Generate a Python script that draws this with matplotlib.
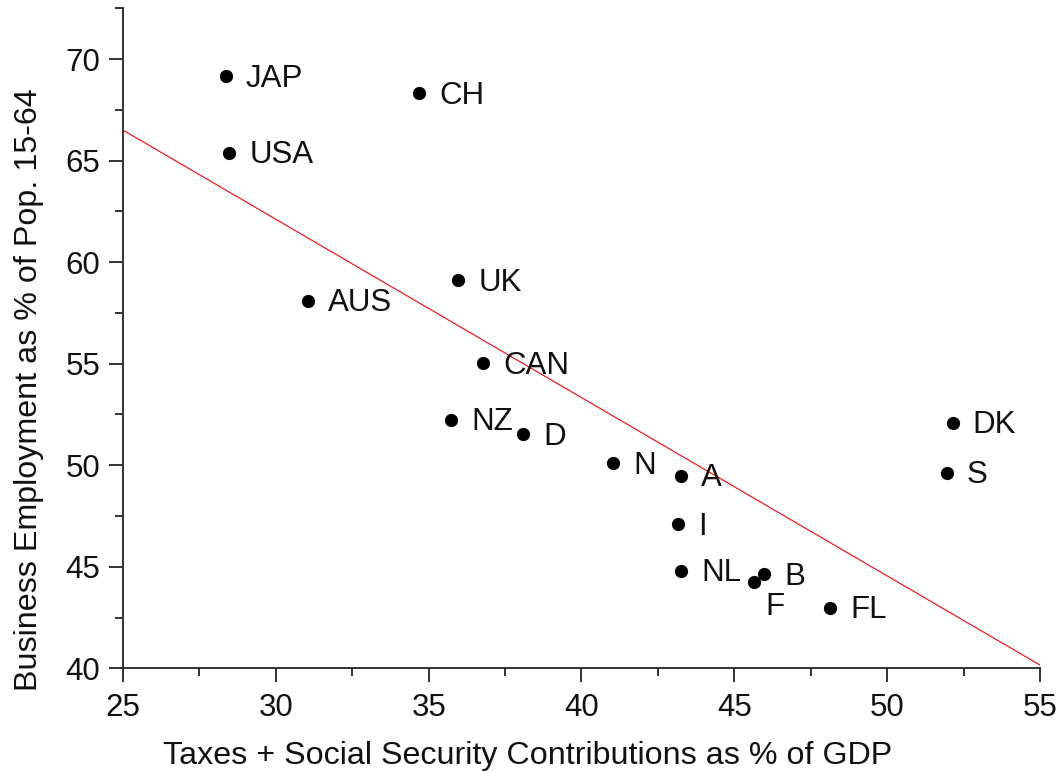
import matplotlib
matplotlib.use("Agg")
import matplotlib.pyplot as plt
from matplotlib.ticker import MultipleLocator

# ---- data ----
countries = ["JAP", "USA", "CH", "AUS", "UK", "CAN", "NZ", "D", "N", "A",
             "I", "NL", "F", "B", "FL", "DK", "S"]
tax_pct = [28.36, 28.47, 34.68, 31.06, 35.97, 36.77, 35.73, 38.08, 41.04, 43.25,
           43.17, 43.25, 45.64, 45.97, 48.13, 52.14, 51.95]
employment_pct = [69.16, 65.39, 68.31, 58.10, 59.12, 55.02, 52.23, 51.52, 50.09, 49.48,
                  47.10, 44.81, 44.25, 44.64, 42.98, 52.09, 49.63]
fit_x = [25, 55]
fit_y = [66.5, 40.16]

x_label = "Taxes + Social Security Contributions as % of GDP"
y_label = "Business Employment as % of Pop. 15-64"

# ---- style ----
plt.rcParams['font.family'] = ['Liberation Sans', 'DejaVu Sans']
FS = 22.5
LFS = 23.2

fig = plt.figure(figsize=(10.56, 7.71), dpi=100)
ax = fig.add_axes([0.1165, 0.1332, 0.9848 - 0.1165, 0.9892 - 0.1332])

ax.plot(fit_x, fit_y, color='red', linewidth=0.8, zorder=2)
ax.plot(tax_pct, employment_pct, 'o', color='black', markersize=8.5, zorder=3)

default_offset = (14.5, -1.8)
special_offsets = {"F": (8.0, -18.0)}
for name, x, y in zip(countries, tax_pct, employment_pct):
    off = special_offsets.get(name, default_offset)
    ax.annotate(name, (x, y), xytext=off, textcoords='offset points',
                ha='left', va='center', fontsize=FS, color='#111111')

ax.set_xlim(25, 55)
ax.set_ylim(40, 72.5)
ax.xaxis.set_major_locator(MultipleLocator(5))
ax.xaxis.set_minor_locator(MultipleLocator(2.5))
ax.yaxis.set_major_locator(MultipleLocator(5))
ax.yaxis.set_minor_locator(MultipleLocator(2.5))

for s in ['top', 'right']:
    ax.spines[s].set_visible(False)
for s in ['left', 'bottom']:
    ax.spines[s].set_linewidth(1.3)
    ax.spines[s].set_color('#222222')

ax.tick_params(axis='both', which='major', direction='out', length=10, width=1.3,
               color='#222222', labelsize=FS, labelcolor='#111111')
ax.tick_params(axis='both', which='minor', direction='out', length=5.5, width=1.3,
               color='#222222')
ax.tick_params(axis='x', which='major', pad=8)
ax.tick_params(axis='y', which='major', pad=6.5)

fig.text(0.5, 0.009, x_label, ha='center', va='baseline', fontsize=LFS, color='#111111')
fig.text(0.027, 0.4948, y_label, ha='center', va='center', rotation=90,
         fontsize=LFS, color='#111111')

fig.savefig("out.png", dpi=100)
